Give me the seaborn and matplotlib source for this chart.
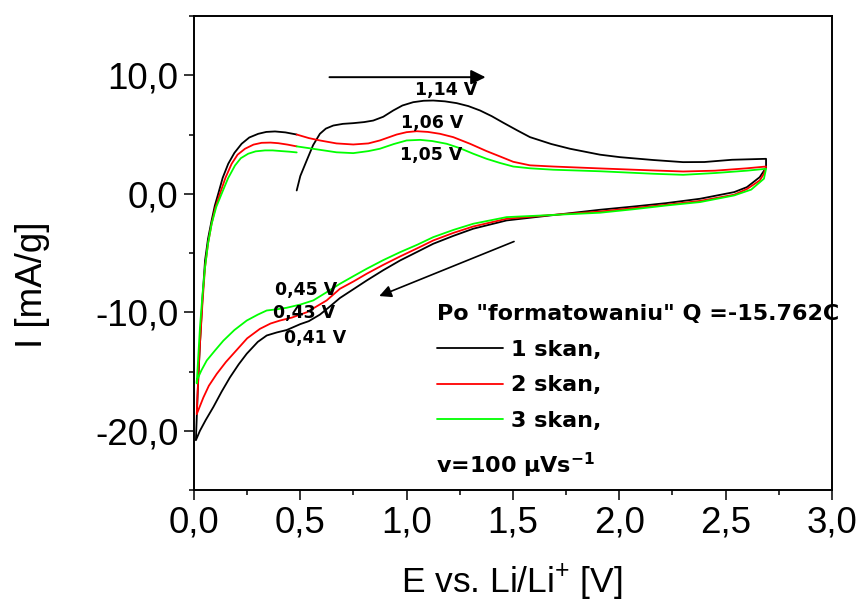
import numpy as np
import pandas as pd
import seaborn as sns
import matplotlib.pyplot as plt
from matplotlib.ticker import FixedLocator, FixedFormatter, MultipleLocator

# scan 1 (black): anodic from OCV, cathodic to 0 V, back to start
scan1_E = [0.483, 0.50, 0.530, 0.560, 0.592, 0.62, 0.655, 0.70, 0.749, 0.80, 0.843, 0.89, 0.937,
           0.98, 1.031, 1.08, 1.125, 1.18, 1.235, 1.29, 1.345, 1.40, 1.454, 1.52, 1.580, 1.68,
           1.768, 1.909, 2.003, 2.159, 2.30, 2.40, 2.53, 2.69, 2.69,
           2.66, 2.60, 2.54, 2.38, 2.22, 2.07, 1.909, 1.674, 1.470, 1.313, 1.22, 1.125, 1.05,
           0.969, 0.89, 0.812, 0.75, 0.686, 0.64, 0.592, 0.54, 0.50, 0.436, 0.39, 0.342, 0.30,
           0.248, 0.21, 0.169, 0.13, 0.091, 0.055, 0.028, 0.009,
           0.018, 0.028, 0.04, 0.052, 0.066, 0.083, 0.098, 0.114, 0.135, 0.161, 0.19, 0.224,
           0.26, 0.302, 0.34, 0.381, 0.43, 0.483]
scan1_I = [0.28, 1.5, 2.81, 4.1, 5.06, 5.5, 5.76, 5.9, 5.96, 6.05, 6.18, 6.5, 7.03,
           7.45, 7.73, 7.85, 7.87, 7.8, 7.65, 7.4, 7.03, 6.55, 6.0, 5.35, 4.78, 4.2,
           3.80, 3.3, 3.09, 2.85, 2.67, 2.68, 2.87, 2.95, 2.2,
           1.4, 0.56, 0.14, -0.42, -0.79, -1.07, -1.35, -1.83, -2.25, -2.95, -3.55, -4.22, -4.9,
           -5.63, -6.45, -7.32, -8.05, -8.8, -9.5, -10.2, -10.75, -11.0, -11.5, -11.7, -11.96, -12.5,
           -13.5, -14.4, -15.5, -16.7, -18.0, -19.1, -20.0, -20.8,
           -16.5, -12.7, -8.8, -5.63, -3.8, -2.25, -1.0, 0.0, 1.35, 2.53, 3.45, 4.22,
           4.75, 5.06, 5.22, 5.26, 5.18, 5.0]

# scan 2 (red)
scan2_E = [0.483, 0.54, 0.592, 0.67, 0.749, 0.82, 0.874, 0.953, 1.0, 1.047, 1.10, 1.157,
           1.219, 1.298, 1.376, 1.439, 1.501, 1.580, 1.689, 1.909, 2.159, 2.30, 2.45, 2.60,
           2.69, 2.68, 2.66, 2.60, 2.54, 2.38, 2.22, 2.07, 1.909, 1.674, 1.47, 1.313, 1.22,
           1.125, 1.05, 0.969, 0.89, 0.812, 0.75, 0.686, 0.624, 0.53, 0.46, 0.404, 0.36, 0.31,
           0.25, 0.2, 0.15, 0.107, 0.07, 0.044, 0.013,
           0.02, 0.028, 0.04, 0.052, 0.066, 0.083, 0.10, 0.122, 0.148, 0.177, 0.205, 0.24,
           0.28, 0.318, 0.36, 0.396, 0.44, 0.483]
scan2_I = [5.0, 4.7, 4.50, 4.25, 4.16, 4.25, 4.50, 5.0, 5.2, 5.28, 5.22, 5.06,
           4.78, 4.22, 3.6, 3.15, 2.7, 2.4, 2.30, 2.14, 1.97, 1.88, 1.95, 2.15,
           2.30, 1.7, 1.12, 0.4, -0.08, -0.6, -0.93, -1.2, -1.5, -1.8, -2.11, -2.76, -3.3,
           -3.94, -4.6, -5.29, -6.0, -6.75, -7.4, -8.02, -9.0, -10.0, -10.45, -10.7, -10.95, -11.4,
           -12.2, -13.2, -14.2, -15.2, -16.2, -17.2, -18.6,
           -15.5, -12.7, -9.2, -6.2, -4.2, -2.53, -1.2, 0.0, 1.35, 2.53, 3.3, 3.8,
           4.15, 4.3, 4.32, 4.27, 4.15, 4.0]

# scan 3 (green)
scan3_E = [0.483, 0.54, 0.592, 0.67, 0.749, 0.82, 0.874, 0.94, 1.0, 1.063, 1.12, 1.188, 1.25,
           1.313, 1.376, 1.439, 1.501, 1.580, 1.689, 1.909, 2.159, 2.30, 2.45, 2.60, 2.69,
           2.68, 2.62, 2.54, 2.38, 2.22, 2.07, 1.909, 1.674, 1.47, 1.313, 1.22, 1.125, 1.05,
           0.969, 0.89, 0.812, 0.75, 0.686, 0.62, 0.561, 0.50, 0.436, 0.39, 0.342, 0.30, 0.248,
           0.19, 0.138, 0.10, 0.06, 0.035, 0.013, 0.013,
           0.02, 0.028, 0.04, 0.052, 0.066, 0.083, 0.105, 0.13, 0.16, 0.193, 0.22, 0.255,
           0.29, 0.334, 0.37, 0.412, 0.45, 0.483]
scan3_I = [4.0, 3.85, 3.71, 3.5, 3.43, 3.6, 3.80, 4.2, 4.5, 4.55, 4.45, 4.22, 3.85,
           3.38, 2.95, 2.6, 2.3, 2.15, 2.03, 1.9, 1.69, 1.6, 1.75, 1.95, 2.11,
           1.27, 0.35, -0.14, -0.7, -0.99, -1.3, -1.6, -1.8, -1.97, -2.53, -3.05, -3.66, -4.3,
           -4.93, -5.6, -6.33, -6.95, -7.6, -8.35, -9.0, -9.35, -9.62, -9.75, -9.85, -10.2, -10.7,
           -11.5, -12.4, -13.2, -14.07, -14.9, -15.76, -16.0,
           -13.8, -11.3, -8.5, -6.2, -4.2, -2.53, -1.1, 0.0, 1.3, 2.39, 3.0, 3.38,
           3.58, 3.66, 3.66, 3.6, 3.55, 3.49]

scan_names = ["1 skan,", "2 skan,", "3 skan,"]
scan_colors = ["#000000", "#ff0000", "#00ff00"]

x_ticks = [0.0, 0.5, 1.0, 1.5, 2.0, 2.5, 3.0]
x_tick_labels = ["0,0", "0,5", "1,0", "1,5", "2,0", "2,5", "3,0"]
y_ticks = [-20, -10, 0, 10]
y_tick_labels = ["-20,0", "-10,0", "0,0", "10,0"]

# peak labels: text, E, I
peak_labels = ["1,14 V", "1,06 V", "1,05 V", "0,45 V", "0,43 V", "0,41 V"]
peak_E = [1.185, 1.121, 1.114, 0.527, 0.517, 0.571]
peak_I = [8.76, 5.97, 3.27, -8.12, -10.06, -12.2]

frames = []
for name, E, I in zip(scan_names, [scan1_E, scan2_E, scan3_E], [scan1_I, scan2_I, scan3_I]):
    frames.append(pd.DataFrame({"E": E, "I": I, "scan": name}))
df = pd.concat(frames, ignore_index=True)

sns.set_theme(style="ticks")
plt.rcParams["font.family"] = ["Liberation Sans", "DejaVu Sans"]
plt.rcParams["mathtext.fontset"] = "custom"
plt.rcParams["mathtext.rm"] = "Liberation Sans"
plt.rcParams["mathtext.bf"] = "DejaVu Sans:bold"
plt.rcParams["text.color"] = "black"
plt.rcParams["axes.labelcolor"] = "black"
plt.rcParams["xtick.color"] = "black"
plt.rcParams["ytick.color"] = "black"
plt.rcParams["legend.labelcolor"] = "black"

fig = plt.figure(figsize=(8.61, 6.03), dpi=100)
ax = fig.add_axes([0.2253, 0.1874, 0.741, 0.786])

sns.lineplot(data=df, x="E", y="I", hue="scan", palette=scan_colors, sort=False,
             estimator=None, linewidth=1.3, legend=False, ax=ax)

ax.set_xlim(0, 3)
ax.set_ylim(-25, 15)
ax.xaxis.set_major_locator(FixedLocator(x_ticks))
ax.xaxis.set_major_formatter(FixedFormatter(x_tick_labels))
ax.yaxis.set_major_locator(FixedLocator(y_ticks))
ax.yaxis.set_major_formatter(FixedFormatter(y_tick_labels))
ax.xaxis.set_minor_locator(MultipleLocator(0.25))
ax.yaxis.set_minor_locator(MultipleLocator(5))
ax.tick_params(which="major", direction="out", length=7, width=1.1, labelsize=26.5,
               pad=4, colors="black")
ax.tick_params(which="minor", direction="out", length=3.5, width=1.1, colors="black")
for sp in ax.spines.values():
    sp.set_visible(True)
    sp.set_linewidth(1.4)
    sp.set_color("black")

ax.set_xlabel(r"E vs. Li/Li$^{+}$ [V]", fontsize=25.5, color="black")
ax.set_ylabel("I [mA/g]", fontsize=26.5, color="black")
ax.xaxis.set_label_coords(0.498, -0.149)
ax.yaxis.set_label_coords(-0.2257, 0.432)

# scan direction arrows
ax.annotate("", xy=(1.384, 9.84), xytext=(0.624, 9.84),
            arrowprops=dict(arrowstyle="-|>", color="black", lw=1.4, mutation_scale=22))
ax.annotate("", xy=(0.859, -8.72), xytext=(1.517, -3.94),
            arrowprops=dict(arrowstyle="-|>", color="black", lw=1.2, mutation_scale=18))

for t, e, i in zip(peak_labels, peak_E, peak_I):
    ax.text(e, i, t, ha="center", va="center", fontsize=12.5, fontweight="bold",
            family="DejaVu Sans", color="black")

leg = ax.legend(handles=ax.lines[:3], labels=scan_names, loc="upper left",
                bbox_to_anchor=(0.363, 0.416), frameon=False, borderpad=0,
                handlelength=3.0, handletextpad=0.35, labelspacing=0.71,
                title='Po "formatowaniu" Q =-15.762C',
                prop={"family": "DejaVu Sans", "weight": "bold", "size": 16},
                title_fontproperties={"family": "DejaVu Sans", "weight": "bold", "size": 16},
                alignment="left")
leg.get_title().set_color("black")
for h in leg.get_lines():
    h.set_linewidth(1.3)

ax.text(0.380, 0.052, r"v=100 μVs$^{\mathbf{-1}}$", transform=ax.transAxes,
        ha="left", va="center", fontsize=16, fontweight="bold", family="DejaVu Sans",
        color="black")

fig.savefig("out.png", dpi=100)
